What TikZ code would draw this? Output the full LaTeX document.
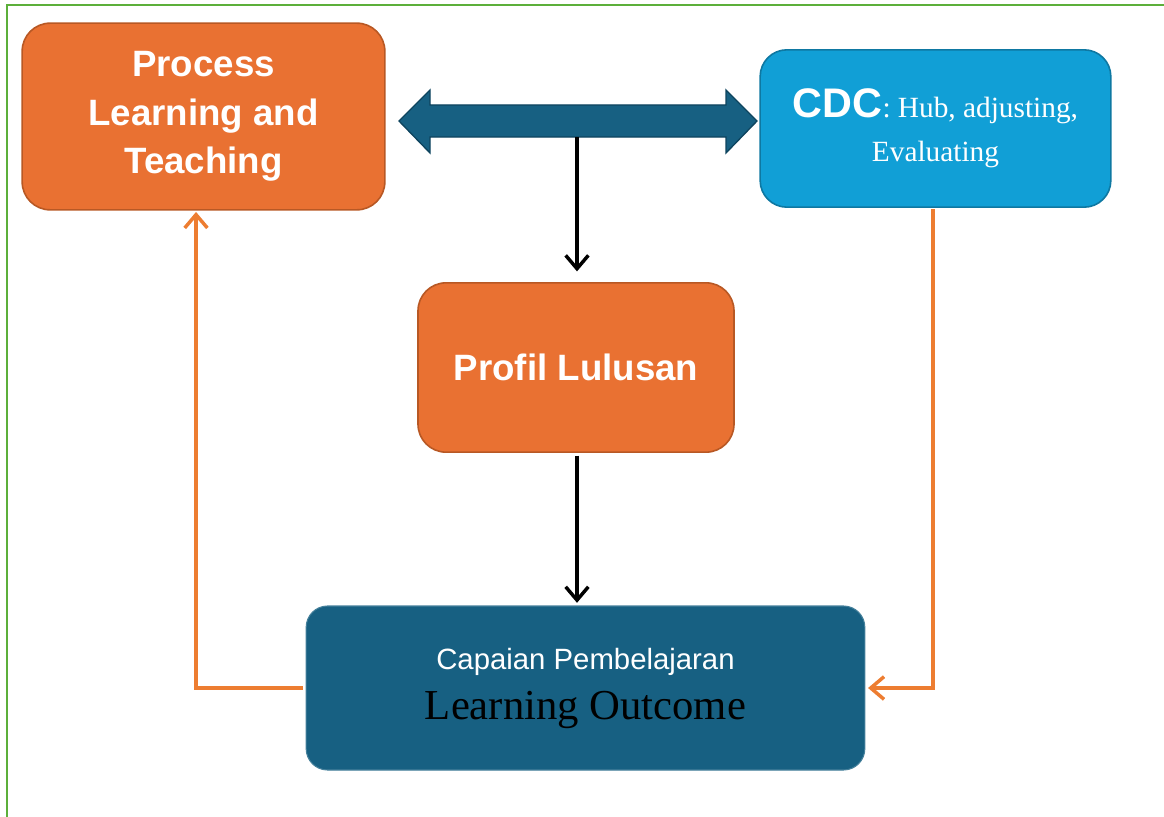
\documentclass[tikz,border=0pt]{standalone}
\usepackage{fontspec}
\setmainfont{Liberation Serif}
\setsansfont{Liberation Sans}
\definecolor{cdorange}{RGB}{233,113,50}
\definecolor{cdorangedk}{RGB}{184,88,36}
\definecolor{cdline}{RGB}{237,125,49}
\definecolor{cdblue}{RGB}{17,159,214}
\definecolor{cdbluedk}{RGB}{14,120,162}
\definecolor{cdteal}{RGB}{23,96,130}
\definecolor{cdtealdk}{RGB}{14,68,94}
\definecolor{cdgreen}{RGB}{92,175,58}
\usetikzlibrary{arrows.meta}

\begin{document}
\begin{tikzpicture}[
      x=0.75pt, y=-0.75pt,
      arr/.style={-{Straight Barb[length=10pt,width=17pt]}, line width=2.6pt, black},
      back/.style={-{Straight Barb[length=10pt,width=17pt]}, line width=2.6pt, cdline},
      ora/.style={draw=cdorangedk,line width=1.2pt,fill=cdorange,rounded corners=21pt,
                  text=white,font=\sffamily\bfseries\fontsize{27.5}{36.4}\selectfont,align=center},
      cdcbox/.style={draw=cdbluedk,line width=1.2pt,fill=cdblue,rounded corners=20pt,
                  text=white,font=\rmfamily\fontsize{22}{33}\selectfont,align=center},
      lobox/.style={draw=cdteal!80!white,line width=0.8pt,fill=cdteal,rounded corners=16pt,
                  font=\fontsize{22}{37.5}\selectfont,align=center},
      link/.style={draw=cdtealdk,line width=1pt,fill=cdteal,line join=miter}
    ]
    \useasboundingbox (0,0) rectangle (1164,817);

    % Frame (cut off on the right and bottom)
    \draw[cdgreen,line width=2.2pt] (7,817) -- (7,5) -- (1164,5);

    % Boxes
    \node (proc) [ora,minimum width=272pt,minimum height=140pt] at (203.5,116.5)
                 {Process\\Learning and\\Teaching};
    \node (cdc)  [cdcbox,minimum width=263pt,minimum height=118pt] at (935.5,128.5)
                 {{\sffamily\bfseries\fontsize{31}{33}\selectfont CDC}: Hub, adjusting,\\Evaluating};
    \node (prof) [ora,minimum width=237pt,minimum height=127pt] at (576,367.5)
                 {Profil Lulusan};
    \node (lo)   [lobox,minimum width=419pt,minimum height=123pt] at (585.5,688)
                 {{\sffamily\color{white}Capaian Pembelajaran}\\
                  {\rmfamily\fontsize{32}{37.5}\selectfont Learning Outcome}};

    % Two-way link between the top boxes
    \draw[link] (399,121) -- (430,90) -- (430,105) -- (726,105) -- (726,90) -- (757,121)
                -- (726,153) -- (726,137) -- (430,137) -- (430,153) -- cycle;
    \coordinate (linkbot) at (577,137);

    % Arrows down
    \draw[arr,shorten >=8pt] (linkbot) -- (prof.north -| linkbot);
    \draw[arr,shorten <=2pt,shorten >=2pt] (prof.south -| linkbot) -- (lo.north -| linkbot);

    % Feedback arrows
    \draw[back,shorten <=2pt,shorten >=1pt] (lo.west) -| ([xshift=-5.6pt]proc.south);
    \draw[back,shorten <=1pt,shorten >=2pt] ([xshift=-1.8pt]cdc.south) |- (lo.east);
  \end{tikzpicture}
\end{document}
